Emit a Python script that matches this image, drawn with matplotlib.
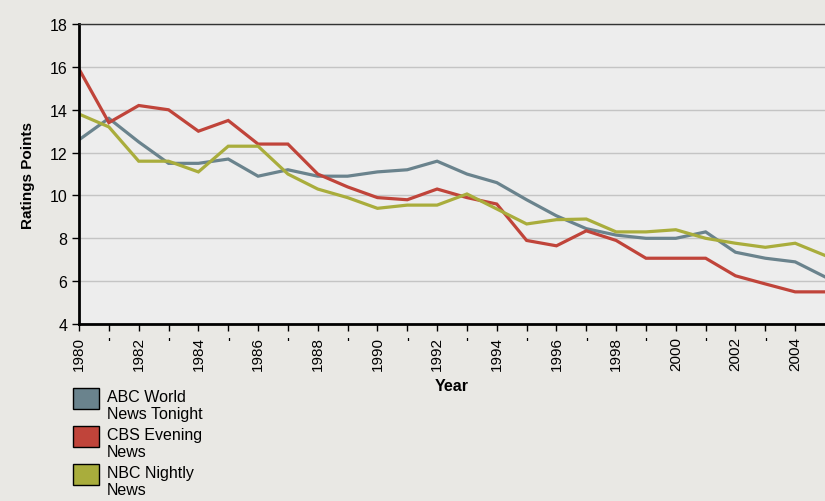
import numpy as np
import matplotlib.pyplot as plt
from matplotlib.patches import Rectangle

years = list(range(1980, 2006))
abc = [12.6, 13.6, 12.5, 11.5, 11.5, 11.7, 10.9, 11.2, 10.9, 10.9, 11.1, 11.2, 11.6,
       11.0, 10.6, 9.8, 9.05, 8.45, 8.15, 8.0, 8.0, 8.3, 7.35, 7.07, 6.9, 6.2]
cbs = [15.9, 13.4, 14.2, 14.0, 13.0, 13.5, 12.4, 12.4, 11.0, 10.4, 9.9, 9.8, 10.3,
       9.9, 9.6, 7.9, 7.65, 8.35, 7.9, 7.07, 7.07, 7.07, 6.25, 5.87, 5.5, 5.5]
nbc = [13.8, 13.2, 11.6, 11.6, 11.1, 12.3, 12.3, 11.0, 10.3, 9.9, 9.4, 9.55, 9.55,
       10.07, 9.37, 8.67, 8.87, 8.9, 8.3, 8.3, 8.4, 8.0, 7.77, 7.58, 7.77, 7.2]
series_names = ['ABC World\nNews Tonight', 'CBS Evening\nNews', 'NBC Nightly\nNews']
colors = ['#6a838d', '#c0443a', '#a9ad3c']

plt.rcParams['font.family'] = ['Liberation Sans', 'DejaVu Sans']

fig = plt.figure(figsize=(8.25, 5.02), dpi=100)
fig.patch.set_facecolor('#e9e8e4')
ax = fig.add_axes([0.0958, 0.3526, 0.9042, 0.5974])
ax.set_facecolor('#ededed')

for vals, c in zip([abc, cbs, nbc], colors):
    ax.plot(years, vals, color=c, linewidth=2.3, solid_joinstyle='miter')

ax.set_xlim(1980, 2005)
ax.set_ylim(4, 18)
ax.set_yticks(range(4, 19, 2))
ax.grid(axis='y', color='#c4c4c4', linewidth=1.0)
ax.set_axisbelow(True)

ticks = years[:-1]
ax.set_xticks(ticks)
ax.set_xticklabels([str(y) if y % 2 == 0 else "'" for y in ticks], fontsize=11)
for y, lab in zip(ticks, ax.get_xticklabels()):
    lab.set_rotation(90 if y % 2 == 0 else 0)
ax.tick_params(axis='y', labelsize=11.5, length=5, width=1)
ax.tick_params(axis='x', length=5, width=1)

for s in ['left', 'bottom']:
    ax.spines[s].set_linewidth(2)
ax.spines['top'].set_linewidth(1)
ax.spines['top'].set_color('#333333')
ax.spines['right'].set_visible(False)

ax.set_ylabel('Ratings Points', fontsize=11, fontweight='bold', labelpad=10)
ax.set_xlabel('Year', fontsize=11.5, fontweight='bold', labelpad=6)

# legend drawn by hand: swatch beside first line of each two-line label
for i, (name, c) in enumerate(zip(series_names, colors)):
    top = 1 - (389 + 38 * i) / 502
    fig.add_artist(Rectangle((0.0885, top - 0.0418), 0.0315, 0.0418,
                             facecolor=c, edgecolor='black', linewidth=1,
                             transform=fig.transFigure))
    fig.text(0.1297, top - 0.001, name, fontsize=11.5, va='top', ha='left',
             linespacing=1.2)

fig.savefig('out.png', dpi=100, facecolor=fig.get_facecolor())
